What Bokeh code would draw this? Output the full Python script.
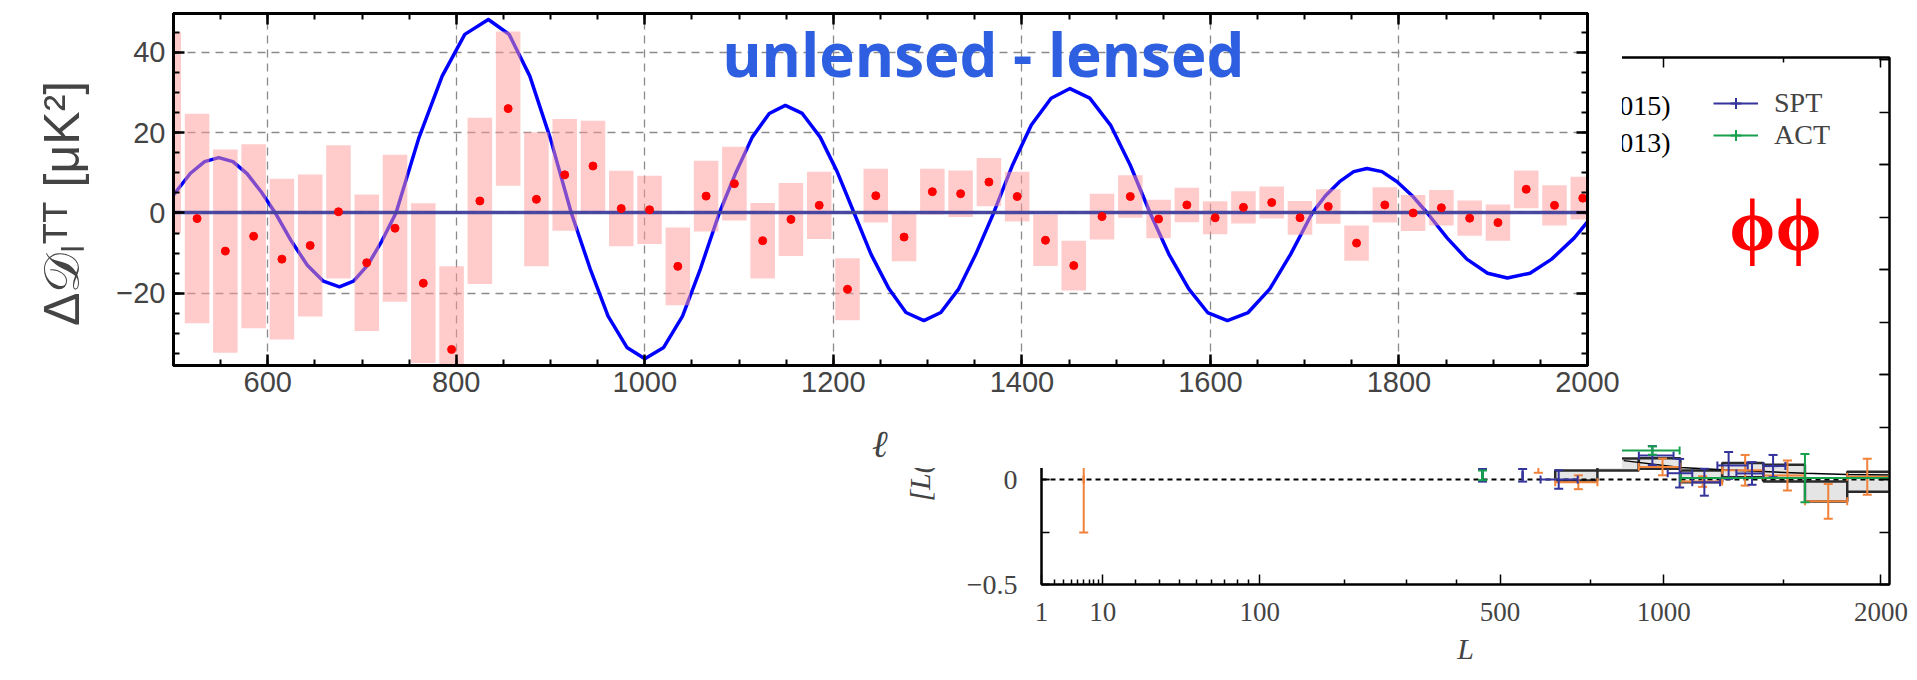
import math
from bokeh.plotting import figure
from bokeh.models import (Range1d, LinearAxis, SingleIntervalTicker, FixedTicker,
                          Label, Legend, LegendItem, CustomLabelingPolicy)
from bokeh.layouts import column
from bokeh.embed import file_html
from bokeh.resources import INLINE

# ---------------- main panel : unlensed - lensed TT ----------------
ell_centres = [495, 525, 555, 585, 615, 645, 675, 705, 735, 765, 795, 825, 855, 885, 915, 945, 975,
               1005, 1035, 1065, 1095, 1125, 1155, 1185, 1215, 1245, 1275, 1305, 1335, 1365, 1395,
               1425, 1455, 1485, 1515, 1545, 1575, 1605, 1635, 1665, 1695, 1725, 1755, 1785, 1815,
               1845, 1875, 1905, 1935, 1965, 1995]
dtt_values = [20.0, -1.4, -9.5, -5.8, -11.5, -8.1, 0.3, -12.4, -3.8, -17.5, -34.0, 3.0, 26.0, 3.4,
              9.5, 11.7, 1.1, 0.8, -13.3, 4.2, 7.3, -6.9, -1.6, 1.9, -19.0, 4.3, -6.0, 5.3, 4.8,
              7.7, 4.1, -6.8, -13.1, -0.9, 4.1, -1.5, 2.0, -1.2, 1.4, 2.6, -1.2, 1.6, -7.5, 2.0,
              0.0, 1.3, -1.3, -2.4, 5.9, 1.9, 3.7]
dtt_errors = [25.0, 26.1, 25.3, 22.9, 20.0, 17.7, 16.6, 17.0, 18.3, 19.9, 20.7, 20.7, 19.2, 16.7,
              13.9, 11.3, 9.4, 8.5, 9.7, 8.8, 9.2, 9.4, 9.1, 8.4, 7.7, 6.7, 6.0, 5.7, 5.8, 6.0,
              6.2, 6.4, 6.2, 5.7, 5.3, 4.8, 4.3, 4.1, 4.0, 4.0, 4.2, 4.3, 4.4, 4.4, 4.5, 4.4,
              4.4, 4.5, 4.7, 5.0, 5.3]
curve_ell = [500, 518, 533, 548, 563, 578, 593, 608, 625, 642, 659, 676, 691, 706, 721, 736,
             760, 785, 809, 834, 856, 878, 900, 922, 942, 961, 981, 1000, 1020, 1040, 1059, 1079,
             1097, 1114, 1132, 1149, 1167, 1186, 1204, 1222, 1240, 1259, 1277, 1296, 1314, 1333,
             1351, 1370, 1390, 1410, 1431, 1451, 1472, 1494, 1515, 1536, 1556, 1577, 1597, 1618,
             1640, 1663, 1685, 1708, 1722, 1737, 1752, 1766, 1782, 1798, 1814, 1830, 1851, 1872,
             1894, 1915, 1939, 1962, 1986, 2000]
curve_values = [4.5, 9.9, 12.8, 13.8, 12.8, 9.8, 5.3, 0.0, -7.0, -13.0, -17.0, -18.4, -17.0,
                -13.0, -7.0, 0.0, 18.5, 34.1, 44.5, 48.2, 44.5, 34.1, 18.4, 0.0, -13.9, -25.7,
                -33.5, -36.3, -33.5, -25.7, -13.9, 0.0, 10.3, 18.9, 24.8, 26.8, 24.8, 18.9, 10.3,
                0.0, -10.3, -18.9, -24.8, -26.8, -24.8, -18.9, -10.3, 0.0, 11.9, 21.9, 28.6, 31.0,
                28.6, 21.9, 11.9, 0.0, -10.3, -18.9, -24.8, -26.8, -24.8, -18.9, -10.3, 0.0, 4.3,
                7.8, 10.3, 11.1, 10.3, 7.8, 4.3, 0.0, -6.2, -11.5, -15.0, -16.2, -15.0, -11.5,
                -6.2, -2.2]
main_x_grid = [600, 800, 1000, 1200, 1400, 1600, 1800]
main_y_grid = [-20, 0, 20, 40]

# ---------------- background panel : lensing phi-phi ----------------
bin_L_lo = [646, 773, 911, 1063, 1230, 1409, 1604, 1818]
bin_L_hi = [773, 911, 1063, 1230, 1409, 1604, 1818, 2048]
bin_lo = [-0.005, 0.043, 0.051, -0.013, 0.011, -0.010, -0.105, -0.058]
bin_hi = [0.043, 0.100, 0.101, 0.043, 0.079, 0.070, -0.010, 0.037]
theory_L = [859, 1063, 1230, 1409, 1604, 1818, 2048]
theory_v = [0.090, 0.057, 0.046, 0.038, 0.030, 0.024, 0.022]

spt_L = [458, 557, 656, 959, 1060, 1157, 1257, 1358, 1453]
spt_v = [0.020, 0.020, 0.000, 0.114, 0.030, -0.013, 0.067, 0.029, 0.064]
spt_err = [0.030, 0.030, 0.044, 0.045, 0.068, 0.064, 0.064, 0.054, 0.053]
spt_L_lo = [458, 557, 605, 911, 1015, 1109, 1210, 1290, 1409]
spt_L_hi = [458, 557, 712, 1037, 1109, 1221, 1339, 1409, 1510]

planck_L = [6, 599, 714, 996, 1150, 1328, 1520, 1720, 1925]
planck_v = [0.000, 0.080, -0.013, 0.060, -0.010, 0.044, 0.019, -0.104, 0.013]
planck_err = [0.252, 0.048, 0.033, 0.040, 0.025, 0.073, 0.071, 0.083, 0.086]
planck_L_lo = [6, 599, 646, 911, 1063, 1230, 1409, 1604, 1818]
planck_L_hi = [6, 599, 773, 1063, 1230, 1409, 1604, 1818, 2048]

act_L = [458, 959, 1604]
act_v = [0.020, 0.138, 0.007]
act_err = [0.023, 0.020, 0.115]
act_L_lo = [458, 800, 1063]
act_L_hi = [458, 1060, 2048]

L_major = [1, 10, 100, 500, 1000, 2000]
L_minor = [2, 3, 4, 5, 6, 7, 8, 9, 20, 30, 40, 50, 60, 70, 80, 90, 200, 300, 400, 750, 1500]
POW = 0.41


def tL(L):
    return round(L ** POW, 6)


# labels of the mirrored (top / right) axes are suppressed entirely
hide_all = CustomLabelingPolicy(
    code="for (let i = 0; i < indices.size; i++) { indices.unset(i) }\nreturn indices")


def mirror_axis(ticker, tin, tmin, width, tick_w, minor_w):
    return LinearAxis(ticker=ticker, major_label_policy=hide_all,
                      major_label_text_font_size="1px", major_label_standoff=0,
                      major_tick_in=tin, major_tick_out=0, minor_tick_in=tmin, minor_tick_out=0,
                      axis_line_width=width, major_tick_line_width=tick_w,
                      minor_tick_line_width=minor_w)


# =============== background figure ===============
bg = figure(width=1917, height=680, output_backend="svg", toolbar_location=None,
            x_range=Range1d(1.0, 2048 ** POW), y_range=Range1d(-0.5, 2.01),
            min_border_left=1041, min_border_right=28, min_border_top=57, min_border_bottom=96,
            x_axis_label="L", y_axis_label="[L(L+1)]² C_L^ϕϕ/2π  [×10⁷]")
bg.frame_align = False
bg.grid.visible = False
bg.outline_line_color = "black"
bg.outline_line_width = 2
bg.background_fill_color = "white"
bg.border_fill_color = "white"

xt_bg = FixedTicker(ticks=[tL(v) for v in L_major], minor_ticks=[tL(v) for v in L_minor])
yt_bg = SingleIntervalTicker(interval=0.5, num_minor_ticks=2)
serif = "Liberation Serif"

for ax in bg.xaxis:
    ax.ticker = xt_bg
    ax.major_label_overrides = {tL(v): str(v) for v in L_major}
    ax.major_label_text_font = serif
    ax.major_label_text_font_size = "27px"
    ax.major_label_standoff = 18
    ax.axis_label_text_font = serif
    ax.axis_label_text_font_size = "30px"
    ax.axis_label_text_font_style = "italic"
    ax.axis_label_standoff = 8
for ax in bg.yaxis:
    ax.ticker = yt_bg
    ax.major_label_overrides = {-0.5: "−0.5", 0: "0", 0.5: "0.5", 1: "1", 1.5: "1.5", 2: "2"}
    ax.major_label_text_font = serif
    ax.major_label_text_font_size = "28px"
    ax.major_label_standoff = 24
    ax.axis_label_text_font = serif
    ax.axis_label_text_font_size = "30px"
    ax.axis_label_text_font_style = "italic"
    ax.axis_label_standoff = 28
for ax in list(bg.xaxis) + list(bg.yaxis):
    ax.axis_line_width = 2
    ax.major_tick_in = 10
    ax.major_tick_out = 0
    ax.minor_tick_in = 5
    ax.minor_tick_out = 0
    ax.major_tick_line_width = 1.5
    ax.minor_tick_line_width = 1.5
for ax in bg.yaxis:
    ax.major_tick_in = 8
    ax.minor_tick_in = 8

bg.add_layout(mirror_axis(xt_bg, 10, 5, 2, 1.5, 1.5), "above")
bg.add_layout(mirror_axis(yt_bg, 10, 10, 2, 1.5, 1.5), "right")

bg.quad(left=[tL(v) for v in bin_L_lo], right=[tL(v) for v in bin_L_hi],
        bottom=bin_lo, top=bin_hi, fill_color="#E5E5E5", line_color="#2a2a2a", line_width=2.5)
bg.hspan(y=[0], line_color="black", line_width=1.8, line_dash="5 4")
bg.line(x=[tL(v) for v in theory_L], y=theory_v, line_color="black", line_width=1.5)


def errorbars(fig, L, v, e, Llo, Lhi, color):
    x = [tL(a) for a in L]
    lo = [a - b for a, b in zip(v, e)]
    hi = [a + b for a, b in zip(v, e)]
    xlo = [tL(a) for a in Llo]
    xhi = [tL(a) for a in Lhi]
    fig.segment(x0=x, y0=lo, x1=x, y1=hi, line_color=color, line_width=2)
    hb = fig.segment(x0=xlo, y0=v, x1=xhi, y1=v, line_color=color, line_width=2)
    fig.scatter(x=x + x, y=lo + hi, marker="dash", size=9, line_color=color, line_width=2)
    fig.scatter(x=xlo + xhi, y=v + v, marker="dash", angle=math.pi / 2, size=8,
                line_color=color, line_width=2)
    cr = fig.scatter(x=x, y=v, marker="cross", size=0, line_color=color, line_width=2)
    return [hb, cr]


planck_r = errorbars(bg, planck_L, planck_v, planck_err, planck_L_lo, planck_L_hi, "#F0823A")
spt_r = errorbars(bg, spt_L, spt_v, spt_err, spt_L_lo, spt_L_hi, "#34349C")
act_r = errorbars(bg, act_L, act_v, act_err, act_L_lo, act_L_hi, "#16A04C")

leg = Legend(items=[LegendItem(label="SPT", renderers=spt_r),
                    LegendItem(label="ACT", renderers=act_r)],
             location=(672, 433), orientation="vertical",
             label_text_font=serif, label_text_font_size="28px", label_text_line_height=0.8,
             glyph_width=45, glyph_height=28, label_standoff=16, label_height=28,
             padding=0, margin=0, spacing=0, border_line_alpha=0, background_fill_alpha=0)
bg.add_layout(leg)

for txt, yy in [("Planck (2015)", 479), ("Planck (2013)", 442)]:
    bg.add_layout(Label(x=629, y=yy, x_units="screen", y_units="screen", text=txt,
                        text_align="right", text_baseline="middle", text_font=serif,
                        text_font_size="28px", text_color="black"))
bg.add_layout(Label(x=734, y=360, x_units="screen", y_units="screen", text="ϕϕ",
                    text_align="center", text_baseline="middle", text_font=serif,
                    text_font_size="74px", text_font_style="bold", text_color="#FF0000"))

# =============== main figure ===============
p = figure(width=1622, height=468, output_backend="svg", toolbar_location=None,
           x_range=Range1d(500, 2000), y_range=Range1d(-38.0, 49.7),
           min_border_left=173, min_border_right=35, min_border_top=13, min_border_bottom=102,
           x_axis_label="ℓ", y_axis_label="Δ𝒟ₗᵀᵀ   [μK²]")
p.frame_align = False
p.background_fill_color = "white"
p.border_fill_color = "white"
p.outline_line_color = "black"
p.outline_line_width = 3

xt = SingleIntervalTicker(interval=200, num_minor_ticks=4)
yt = SingleIntervalTicker(interval=20, num_minor_ticks=4)
sans = "Liberation Sans"
p.xaxis.ticker = xt
p.yaxis.ticker = yt
p.yaxis.major_label_overrides = {-20: "−20"}
for ax in list(p.xaxis) + list(p.yaxis):
    ax.axis_line_width = 3
    ax.major_tick_in = 11
    ax.major_tick_out = 0
    ax.minor_tick_in = 6
    ax.minor_tick_out = 0
    ax.major_tick_line_width = 2.5
    ax.minor_tick_line_width = 2
    ax.major_label_text_font = sans
    ax.major_label_text_font_size = "29px"
p.xaxis.major_label_standoff = 6
p.xaxis.major_label_text_line_height = 1.0
p.yaxis.major_label_standoff = 8
p.xaxis.axis_label_text_font = "DejaVu Serif"
p.xaxis.axis_label_text_font_style = "bold italic"
p.xaxis.axis_label_text_font_size = "38px"
p.xaxis.axis_label_text_line_height = 0.9
p.xaxis.axis_label_standoff = 26
p.yaxis.axis_label_text_font = sans
p.yaxis.axis_label_text_font_style = "normal"
p.yaxis.axis_label_text_font_size = "50px"
p.yaxis.axis_label_standoff = 23

p.add_layout(mirror_axis(xt, 11, 6, 3, 2.5, 2), "above")
p.add_layout(mirror_axis(yt, 11, 6, 3, 2.5, 2), "right")

p.xgrid.ticker = FixedTicker(ticks=main_x_grid)
p.ygrid.ticker = FixedTicker(ticks=main_y_grid)
for g in (p.xgrid, p.ygrid):
    g.grid_line_color = "#8a8a8a"
    g.grid_line_width = 1.3
    g.grid_line_dash = "8 6"

p.line(x=curve_ell, y=curve_values, line_color="#0000FF", line_width=3.5, line_join="round")
p.vbar(x=ell_centres, width=26,
       top=[a + b for a, b in zip(dtt_values, dtt_errors)],
       bottom=[a - b for a, b in zip(dtt_values, dtt_errors)],
       fill_color="#FF9898", fill_alpha=0.5, line_color=None)
p.hspan(y=[0], line_color="#40409E", line_width=3.5, line_alpha=0.95)
p.scatter(x=ell_centres, y=dtt_values, size=8, fill_color="#FF0000", line_color="#FF0000")

p.add_layout(Label(x=1359, y=39.5, text="unlensed - lensed", text_align="center",
                   text_baseline="alphabetic", text_font="Open Sans", text_font_style="bold",
                   text_font_size="60px", text_color="#2D5FE0"))

p.margin = (-680, 0, 0, 0)

layout = column(bg, p)
open("out.html", "w").write(file_html(layout, INLINE))
